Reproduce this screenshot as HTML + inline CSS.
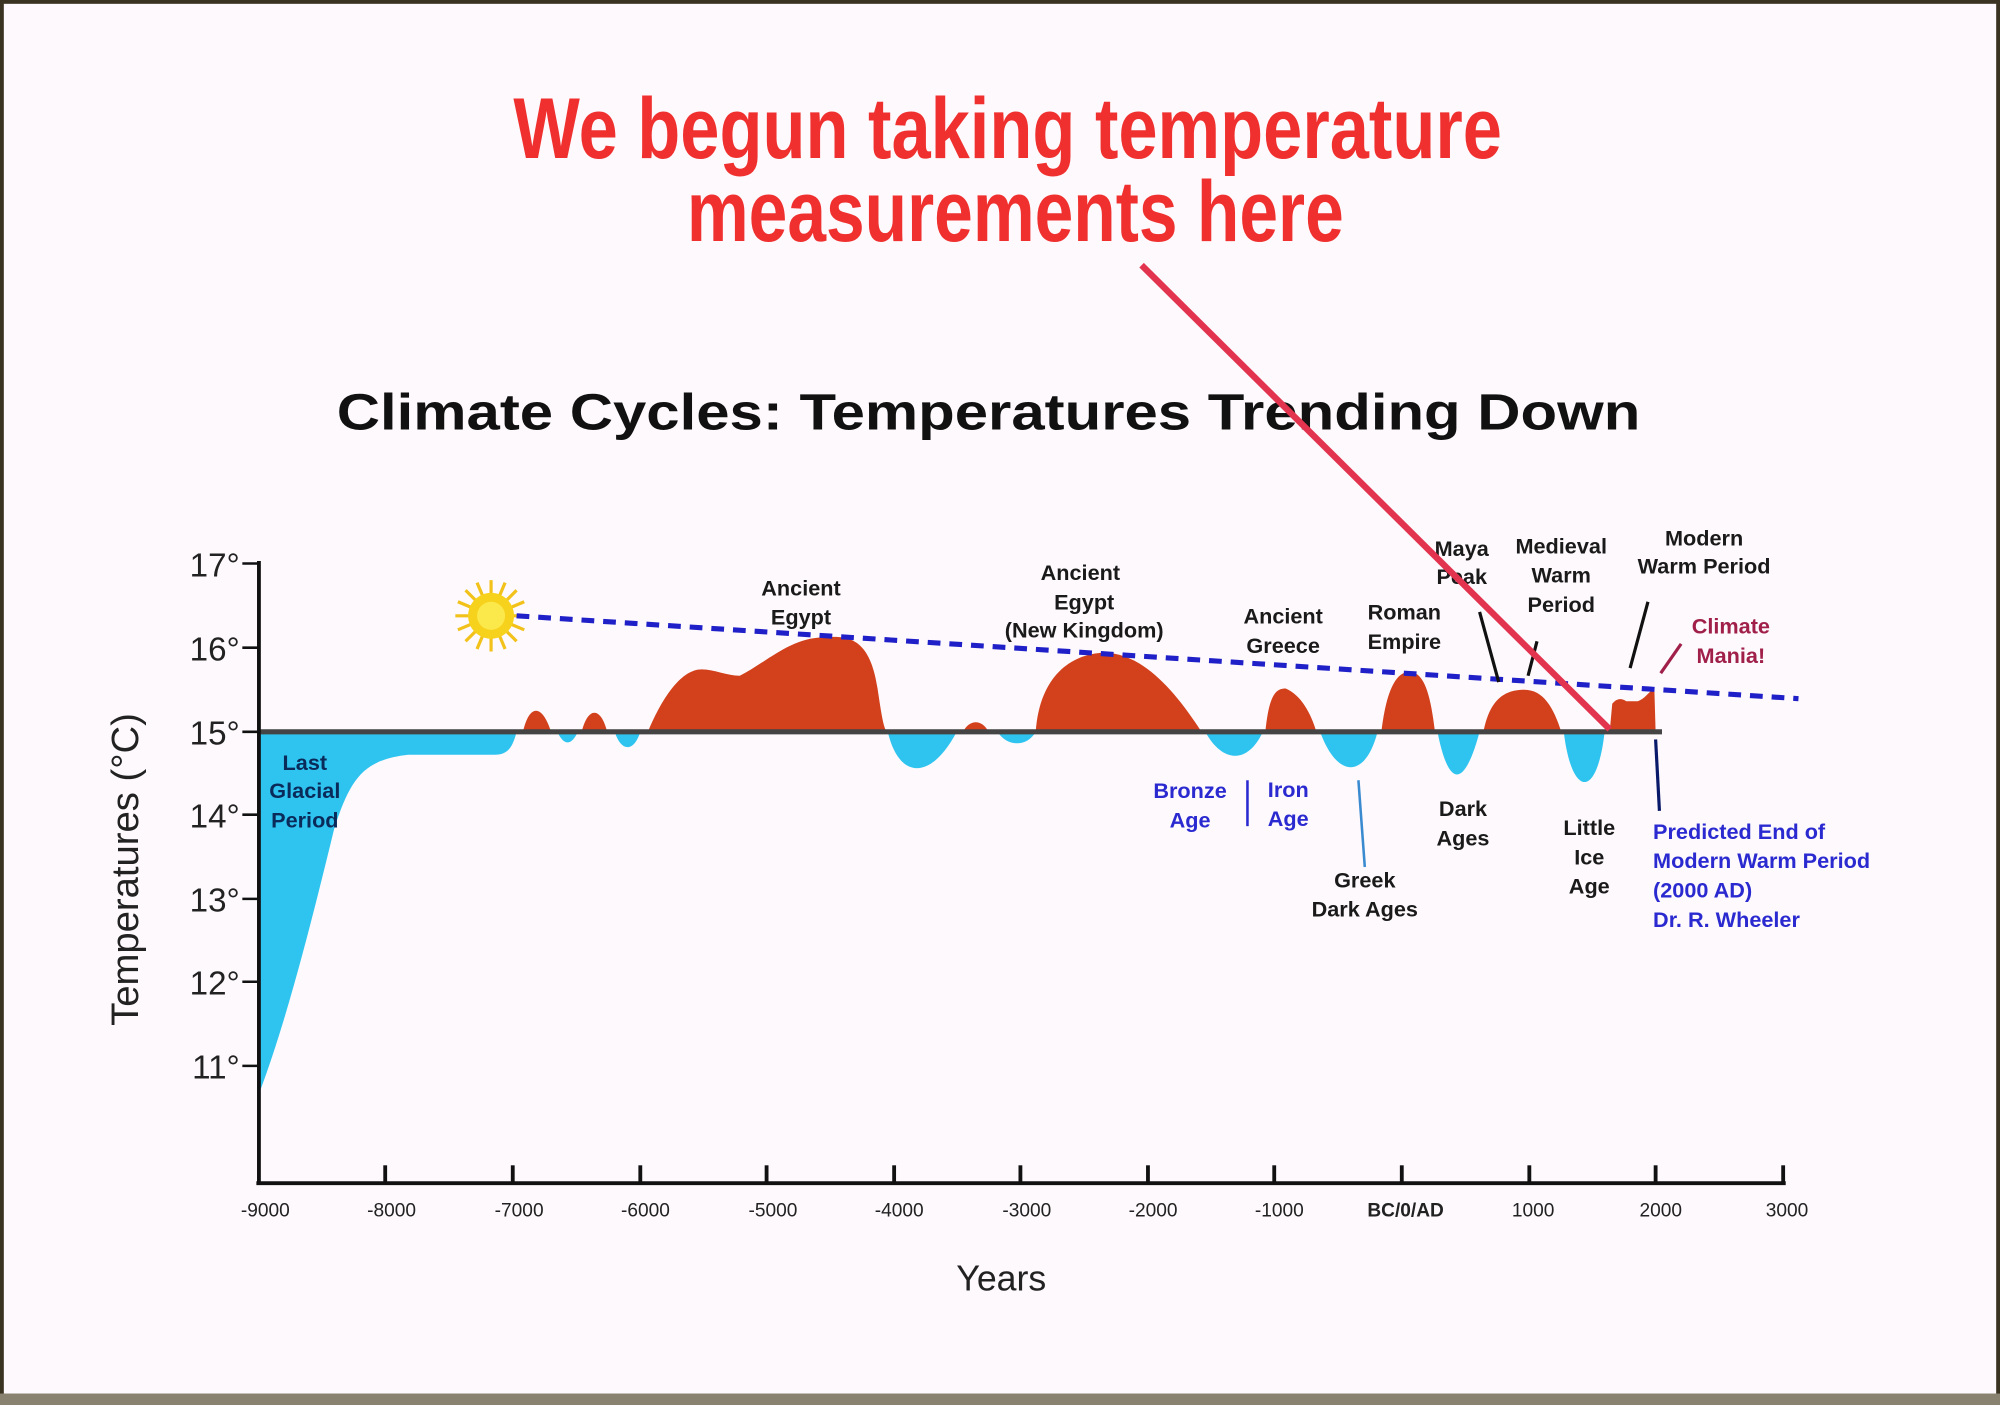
<!DOCTYPE html>
<html><head><meta charset="utf-8"><style>
html,body{margin:0;padding:0;background:#fdf9fc;}
svg{display:block;}
text{font-family:"Liberation Sans",Arial,sans-serif;}
</style></head><body>
<svg width="2000" height="1405" viewBox="0 0 1568 1102" preserveAspectRatio="none" xmlns="http://www.w3.org/2000/svg">
<rect x="0" y="0" width="1568" height="1102" fill="#fdf9fc"/>
<rect x="1.5" y="1.5" width="1565" height="1099" fill="none" stroke="#3b3322" stroke-width="3"/>
<rect x="0" y="1093" width="1568" height="9" fill="#8a8270"/>

<!-- headline -->
<g font-family="'Liberation Sans Narrow','Liberation Sans',sans-serif" font-weight="bold" fill="#f0302f" font-size="68" text-anchor="middle">
<text x="790" y="124" textLength="775" lengthAdjust="spacingAndGlyphs">We begun taking temperature</text>
<text x="796" y="189" textLength="515" lengthAdjust="spacingAndGlyphs">measurements here</text>
</g>

<text x="775" y="337" font-size="40" font-weight="bold" text-anchor="middle" fill="#111" textLength="1022" lengthAdjust="spacingAndGlyphs">Climate Cycles: Temperatures Trending Down</text>

<!-- cyan areas -->
<g fill="#2ec4ef">
<path d="M203,574 L203,858 C225,800 245,720 262,650 C275,610 285,596 320,592 L388,592 C398,592 402,586 405,574 Z"/>
<path d="M437,574 C442,585 448,585 453,574 Z"/>
<path d="M482,574 C487,590 497,590 502,574 Z"/>
<path d="M696,574 C705,612 730,612 750,574 Z"/>
<path d="M782,574 C790,586 805,586 812,574 Z"/>
<path d="M945,574 C958,598 978,600 990,574 Z"/>
<path d="M1035,574 C1048,610 1070,612 1080,574 Z"/>
<path d="M1127,574 C1135,615 1147,622 1160,574 Z"/>
<path d="M1226,574 C1232,625 1252,628 1258,574 Z"/>
</g>
<!-- red areas -->
<g fill="#d2401c">
<path d="M410,574 C415,552 425,552 432,574 Z"/>
<path d="M456,574 C461,554 471,554 476,574 Z"/>
<path d="M508,574 C520,545 535,525 550,525 C560,525 570,530 580,530 C600,520 620,500 645,500 C665,498 682,500 688,540 C691,560 693,574 696,574 Z"/>
<path d="M755,574 C760,564 770,564 775,574 Z"/>
<path d="M812,574 C815,530 840,513 865,512 C895,512 920,540 942,574 Z"/>
<path d="M992,574 C995,545 1000,540 1008,540 C1020,545 1028,560 1032,574 Z"/>
<path d="M1083,574 C1087,540 1095,527 1105,527 C1118,527 1122,550 1125,574 Z"/>
<path d="M1163,574 C1168,548 1180,541 1195,541 C1210,541 1218,555 1224,574 Z"/>
<path d="M1262,574 L1264,552 C1268,547 1272,548 1275,550 L1284,550 C1290,548 1293,542 1297,540 L1298,574 Z"/>
</g>
<!-- baseline -->
<line x1="203" y1="574" x2="1303" y2="574" stroke="#444" stroke-width="4"/>

<!-- axes -->
<line x1="203" y1="440" x2="203" y2="929" stroke="#111" stroke-width="3"/>
<line x1="201" y1="928" x2="1400" y2="928" stroke="#111" stroke-width="3"/>
<g stroke="#111" stroke-width="2">
<line x1="190" y1="442" x2="203" y2="442"/><line x1="190" y1="508" x2="203" y2="508"/>
<line x1="190" y1="574" x2="203" y2="574"/><line x1="190" y1="639" x2="203" y2="639"/>
<line x1="190" y1="705" x2="203" y2="705"/><line x1="190" y1="770" x2="203" y2="770"/>
<line x1="190" y1="836" x2="203" y2="836"/>
</g>
<g stroke="#111" stroke-width="3">
<line x1="302" y1="914" x2="302" y2="928"/><line x1="402" y1="914" x2="402" y2="928"/>
<line x1="502" y1="914" x2="502" y2="928"/><line x1="601" y1="914" x2="601" y2="928"/>
<line x1="701" y1="914" x2="701" y2="928"/><line x1="800" y1="914" x2="800" y2="928"/>
<line x1="900" y1="914" x2="900" y2="928"/><line x1="999" y1="914" x2="999" y2="928"/>
<line x1="1099" y1="914" x2="1099" y2="928"/><line x1="1199" y1="914" x2="1199" y2="928"/>
<line x1="1298" y1="914" x2="1298" y2="928"/><line x1="1398" y1="914" x2="1398" y2="928"/>
</g>
<g font-size="26" fill="#222" text-anchor="end">
<text x="188" y="452">17°</text><text x="188" y="518">16°</text><text x="188" y="584">15°</text>
<text x="188" y="649">14°</text><text x="188" y="715">13°</text><text x="188" y="780">12°</text>
<text x="188" y="846">11°</text>
</g>
<g font-size="15" fill="#222" text-anchor="middle">
<text x="208" y="954">-9000</text><text x="307" y="954">-8000</text><text x="407" y="954">-7000</text>
<text x="506" y="954">-6000</text><text x="606" y="954">-5000</text><text x="705" y="954">-4000</text>
<text x="805" y="954">-3000</text><text x="904" y="954">-2000</text><text x="1003" y="954">-1000</text>
<text x="1102" y="954" font-weight="bold">BC/0/AD</text><text x="1202" y="954">1000</text>
<text x="1302" y="954">2000</text><text x="1401" y="954">3000</text>
</g>
<text x="785" y="1012" font-size="28" text-anchor="middle" fill="#222">Years</text>
<text transform="translate(108,682) rotate(-90)" font-size="30" text-anchor="middle" fill="#222">Temperatures (°C)</text>

<!-- sun -->
<g transform="translate(385,483)">
<g stroke="#f2c21a" stroke-width="2.5">
<line x1="0" y1="-28" x2="0" y2="28"/><line x1="-28" y1="0" x2="28" y2="0"/>
<line x1="-20" y1="-20" x2="20" y2="20"/><line x1="-20" y1="20" x2="20" y2="-20"/>
<line x1="-11" y1="-26" x2="11" y2="26"/><line x1="11" y1="-26" x2="-11" y2="26"/>
<line x1="-26" y1="-11" x2="26" y2="11"/><line x1="-26" y1="11" x2="26" y2="-11"/>
</g>
<circle r="18" fill="#f7d21c"/><circle r="11" fill="#fbe84a"/>
</g>
<!-- trend -->
<line x1="405" y1="483" x2="1410" y2="548" stroke="#2020c8" stroke-width="4" stroke-dasharray="10,7"/>

<!-- labels -->
<g font-size="17" font-weight="bold" fill="#1a1a1a" text-anchor="middle">
<text x="628" y="467">Ancient</text><text x="628" y="490">Egypt</text>
<text x="847" y="455">Ancient</text><text x="850" y="478">Egypt</text><text x="850" y="500">(New Kingdom)</text>
<text x="1006" y="489">Ancient</text><text x="1006" y="512">Greece</text>
<text x="1101" y="486">Roman</text><text x="1101" y="509">Empire</text>
<text x="1146" y="436">Maya</text><text x="1146" y="458">Peak</text>
<text x="1224" y="434">Medieval</text><text x="1224" y="457">Warm</text><text x="1224" y="480">Period</text>
<text x="1336" y="428">Modern</text><text x="1336" y="450">Warm Period</text>
<text x="1070" y="696">Greek</text><text x="1070" y="719">Dark Ages</text>
<text x="1147" y="640">Dark</text><text x="1147" y="663">Ages</text>
<text x="1246" y="655">Little</text><text x="1246" y="678">Ice</text><text x="1246" y="701">Age</text>
</g>
<g font-size="17" font-weight="bold" fill="#0a2a5a" text-anchor="middle">
<text x="239" y="604">Last</text><text x="239" y="626">Glacial</text><text x="239" y="649">Period</text>
</g>
<g font-size="17" font-weight="bold" fill="#2a2ad0" text-anchor="middle">
<text x="933" y="626">Bronze</text><text x="933" y="649">Age</text>
<text x="1010" y="625">Iron</text><text x="1010" y="648">Age</text>
</g>
<g font-size="17" font-weight="bold" fill="#2a2ad0">
<text x="1296" y="658">Predicted End of</text><text x="1296" y="681">Modern Warm Period</text>
<text x="1296" y="704">(2000 AD)</text><text x="1296" y="727">Dr. R. Wheeler</text>
</g>
<g font-size="17" font-weight="bold" fill="#a0204a" text-anchor="middle">
<text x="1357" y="497">Climate</text><text x="1357" y="520">Mania!</text>
</g>
<g stroke="#111" stroke-width="2.5">
<line x1="1160" y1="480" x2="1175" y2="535"/>
<line x1="1205" y1="503" x2="1198" y2="530"/>
<line x1="1292" y1="472" x2="1278" y2="524"/>
</g>
<line x1="1318" y1="505" x2="1302" y2="528" stroke="#a0204a" stroke-width="2.5"/>
<line x1="978" y1="612" x2="978" y2="648" stroke="#2a2ad0" stroke-width="2"/>
<line x1="1065" y1="612" x2="1070" y2="680" stroke="#3a8ad0" stroke-width="2"/>
<line x1="1298" y1="580" x2="1301" y2="636" stroke="#0a1a6a" stroke-width="2.5"/>

<!-- red pointer -->
<line x1="895" y1="208" x2="1262" y2="572" stroke="#e2334f" stroke-width="5"/>
</svg>
</body></html>
